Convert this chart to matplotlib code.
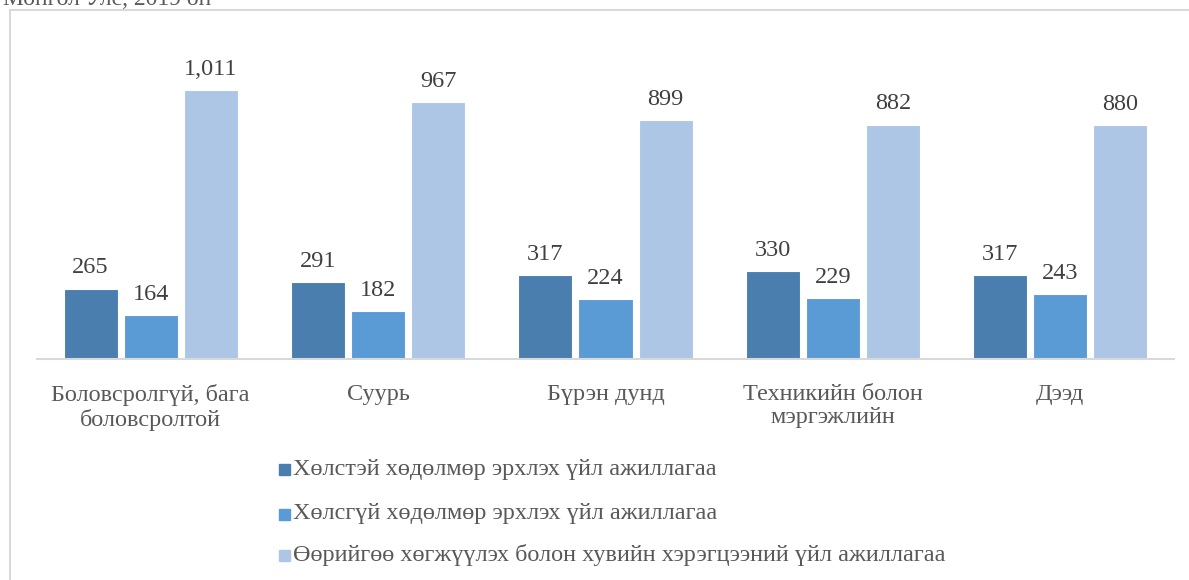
import numpy as np
import matplotlib.pyplot as plt
from matplotlib.patches import Rectangle

plt.rcParams['font.family'] = ['Liberation Serif', 'DejaVu Serif']

# Data
categories = ["Боловсролгүй, бага\nболовсролтой", "Суурь", "Бүрэн дунд",
              "Техникийн болон\nмэргэжлийн", "Дээд"]
paid_work = [265, 291, 317, 330, 317]
unpaid_work = [164, 182, 224, 229, 243]
self_dev = [1011, 967, 899, 882, 880]
series_names = ["Хөлстэй хөдөлмөр эрхлэх үйл ажиллагаа",
                "Хөлсгүй хөдөлмөр эрхлэх үйл ажиллагаа",
                "Өөрийгөө хөгжүүлэх болон хувийн хэрэгцээний үйл ажиллагаа"]
colors = ["#4A7EAE", "#5B9BD5", "#ADC6E6"]

W, H = 1189, 580
fig = plt.figure(figsize=(W / 100, H / 100), dpi=100)

# frame of the chart area (cut off at right and bottom in the original)
fig.add_artist(Rectangle((10 / W, -0.1), 1.2, (H - 10) / H + 0.1,
                         transform=fig.transFigure, fill=False,
                         edgecolor="#D9D9D9", linewidth=1.5))
# title sits above the frame, partly cut by the image edge
fig.text(3 / W, 1 - 5 / H, "Монгол Улс, 2019 он", fontsize=17,
         color="#595959", ha="left", va="baseline")

# axes placed in pixel positions
x0, x1, yb, yt = 37, 1174, 359, 40
ax = fig.add_axes([x0 / W, 1 - yb / H, (x1 - x0) / W, (yb - yt) / H])

x = np.arange(len(categories))
bw = 0.2375
step = 0.264
series = [paid_work, unpaid_work, self_dev]
for k, (vals, col, name) in enumerate(zip(series, colors, series_names)):
    bars = ax.bar(x + (k - 1) * step, vals, width=bw, color=col,
                  edgecolor="white", linewidth=0.8, label=name)
    for b, v in zip(bars, vals):
        ax.text(b.get_x() + b.get_width() / 2, v + 38, f"{v:,}",
                ha="center", va="bottom", fontsize=17.5, color="#404040")

ax.set_xlim(-0.5, len(categories) - 0.5)
ax.set_ylim(0, 1200)
ax.set_yticks([])
for s in ["top", "right", "left"]:
    ax.spines[s].set_visible(False)
ax.spines["bottom"].set_color("#D9D9D9")
ax.spines["bottom"].set_linewidth(1.5)
ax.set_xticks(x)
ax.set_xticklabels(categories, fontsize=17.5, color="#595959", linespacing=1.15)
ax.tick_params(axis="x", length=0, pad=18)

# legend stacked vertically
leg_y = [469, 514, 555]
for name, col, ly in zip(series_names, colors, leg_y):
    fig.add_artist(Rectangle((279 / W, 1 - (ly + 6) / H), 11 / W, 11 / H,
                             transform=fig.transFigure, color=col))
    fig.text(293 / W, 1 - ly / H, name, fontsize=17.5, color="#595959",
             ha="left", va="center")

plt.savefig("out.png", dpi=100)
